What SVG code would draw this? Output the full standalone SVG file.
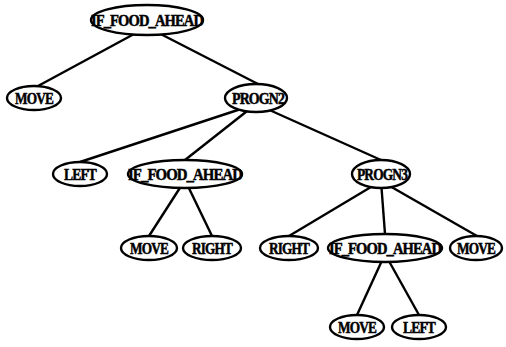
<svg xmlns="http://www.w3.org/2000/svg" width="506" height="347" viewBox="0 0 506 347">
<style>
.n ellipse{fill:#fff;stroke:#000;stroke-width:2.4}
.n text{font-family:"Liberation Serif","DejaVu Serif",serif;font-weight:bold;font-size:16px;text-anchor:middle;stroke:#000;stroke-width:0.5;letter-spacing:-1px}
#edges line{stroke:#000;stroke-width:2.4}
</style>
<rect width="506" height="347" fill="#fff"/>
<g id="edges">
<line x1="147" y1="27" x2="38" y2="86"/>
<line x1="147" y1="27" x2="258" y2="84"/>
<line x1="256" y1="104" x2="80" y2="162"/>
<line x1="256" y1="104" x2="185" y2="160"/>
<line x1="256" y1="104" x2="381" y2="160"/>
<line x1="185" y1="180" x2="149" y2="236"/>
<line x1="185" y1="180" x2="212" y2="236"/>
<line x1="381" y1="181" x2="289" y2="236"/>
<line x1="381" y1="181" x2="385" y2="234"/>
<line x1="381" y1="181" x2="477" y2="236"/>
<line x1="385" y1="254" x2="357" y2="315"/>
<line x1="385" y1="254" x2="419" y2="315"/>
</g>
<g id="n1" class="n"><ellipse cx="147" cy="20" rx="56" ry="15"/><text x="147" y="26" textLength="112" lengthAdjust="spacingAndGlyphs">IF_FOOD_AHEAD</text></g>
<g id="n2" class="n"><ellipse cx="34" cy="98" rx="27" ry="12"/><text x="34" y="104" textLength="38" lengthAdjust="spacingAndGlyphs">MOVE</text></g>
<g id="n3" class="n"><ellipse cx="256" cy="98" rx="31" ry="14"/><text x="258" y="104" textLength="52" lengthAdjust="spacingAndGlyphs">PROGN2</text></g>
<g id="n4" class="n"><ellipse cx="80" cy="174" rx="27" ry="12"/><text x="80" y="180" textLength="32" lengthAdjust="spacingAndGlyphs">LEFT</text></g>
<g id="n5" class="n"><ellipse cx="185" cy="174" rx="57" ry="14"/><text x="185" y="180" textLength="114" lengthAdjust="spacingAndGlyphs">IF_FOOD_AHEAD</text></g>
<g id="n6" class="n"><ellipse cx="381" cy="174" rx="29" ry="14"/><text x="382" y="180" textLength="50" lengthAdjust="spacingAndGlyphs">PROGN3</text></g>
<g id="n7" class="n"><ellipse cx="149" cy="248" rx="28" ry="12"/><text x="149" y="254" textLength="38" lengthAdjust="spacingAndGlyphs">MOVE</text></g>
<g id="n8" class="n"><ellipse cx="212" cy="248" rx="29" ry="12"/><text x="212" y="254" textLength="40" lengthAdjust="spacingAndGlyphs">RIGHT</text></g>
<g id="n9" class="n"><ellipse cx="289" cy="248" rx="29" ry="12"/><text x="289" y="254" textLength="40" lengthAdjust="spacingAndGlyphs">RIGHT</text></g>
<g id="n10" class="n"><ellipse cx="385" cy="248" rx="57" ry="14"/><text x="385" y="254" textLength="112" lengthAdjust="spacingAndGlyphs">IF_FOOD_AHEAD</text></g>
<g id="n11" class="n"><ellipse cx="476" cy="248" rx="26" ry="12"/><text x="476" y="254" textLength="38" lengthAdjust="spacingAndGlyphs">MOVE</text></g>
<g id="n12" class="n"><ellipse cx="357" cy="327" rx="27" ry="12"/><text x="357" y="333" textLength="38" lengthAdjust="spacingAndGlyphs">MOVE</text></g>
<g id="n13" class="n"><ellipse cx="419" cy="327" rx="27" ry="12"/><text x="419" y="333" textLength="32" lengthAdjust="spacingAndGlyphs">LEFT</text></g>
</svg>
